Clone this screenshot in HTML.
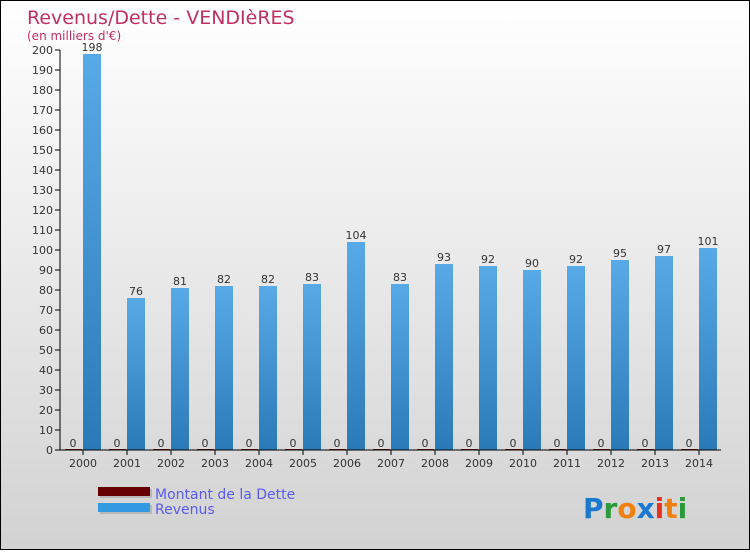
<!DOCTYPE html>
<html><head><meta charset="utf-8"><style>
body{margin:0}
#c{width:748px;height:548px;border:1px solid #000;background:linear-gradient(#ffffff,#d2d2d2);position:relative;font-family:"DejaVu Sans","Liberation Sans",sans-serif}
</style></head><body>
<div id="c">
<svg id="s" width="748" height="548" xmlns="http://www.w3.org/2000/svg">
<defs><linearGradient id="g" x1="0" x2="0" y1="0" y2="1"><stop offset="0" stop-color="#58aae6"/><stop offset="1" stop-color="#2a7ab8"/></linearGradient></defs>
<text x="26" y="23" font-size="19" fill="#c0305f">Revenus/Dette - VENDIèRES</text>
<text x="26" y="39" font-size="12" fill="#c0305f">(en milliers d'€)</text>
<g id="plot"></g>
<rect x="99" y="488" width="52" height="9" fill="#999" opacity="0.5"/>
<rect x="97" y="486" width="52" height="9" fill="#660000"/>
<text x="154" y="498" font-size="14" fill="#5b5bf0">Montant de la Dette</text>
<rect x="99" y="504" width="52" height="9" fill="#999" opacity="0.5"/>
<rect x="97" y="502" width="52" height="9" fill="#3399e0"/>
<text x="154" y="513" font-size="14" fill="#5b5bf0">Revenus</text>
<g font-size="28" font-weight="bold" font-family="'DejaVu Sans',sans-serif">
<text x="582" y="517"><tspan fill="#1a78d0">P</tspan><tspan fill="#2a9a3a">r</tspan><tspan fill="#f08010">o</tspan><tspan fill="#1a78d0">x</tspan><tspan fill="#e83020">i</tspan><tspan fill="#f08010">t</tspan><tspan fill="#2a9a3a">i</tspan></text></g>
</svg></div>
<script>
const years=["2000","2001","2002","2003","2004","2005","2006","2007","2008","2009","2010","2011","2012","2013","2014"];
const revenus=[198,76,81,82,82,83,104,83,93,92,90,92,95,97,101];
const dette=[0,0,0,0,0,0,0,0,0,0,0,0,0,0,0];
const yTicks=[0,10,20,30,40,50,60,70,80,90,100,110,120,130,140,150,160,170,180,190,200];
const NS="http://www.w3.org/2000/svg";
const g=document.getElementById('plot');
const y=v=>449-v*2;
const xc=i=>82+i*44;
function mk(t,a,txt){const e=document.createElementNS(NS,t);for(const k in a)e.setAttribute(k,a[k]);if(txt!==undefined)e.textContent=txt;g.appendChild(e);return e;}
yTicks.forEach(v=>{
 const l=mk('line',{x1:54,x2:59,y1:y(v),y2:y(v),stroke:'#000'});
 
 
 const t=mk('text',{x:52,y:y(v)+4,'font-size':11,fill:'#333','text-anchor':'end'},v);
 
 
});
years.forEach((yr,i)=>{
 const c=xc(i);
 const d=mk('rect',{x:c-18,y:y(dette[i])-1,width:17,height:dette[i]*2+1,fill:'#7a1010'});
 
 
 const dl=mk('text',{x:c-10,y:y(dette[i])-3,'font-size':11,fill:'#333','text-anchor':'middle'},dette[i]);
 
 
 const r=mk('rect',{x:c,y:y(revenus[i]),width:18,height:revenus[i]*2,fill:'url(#g)'});
 
 
 const rl=mk('text',{x:c+9,y:y(revenus[i])-3,'font-size':11,fill:'#333','text-anchor':'middle'},revenus[i]);
 
 
 const tk=mk('line',{x1:c,x2:c,y1:449,y2:454,stroke:'#000'});
 
 
 const xl=mk('text',{x:c,y:466,'font-size':11,fill:'#333','text-anchor':'middle'},yr);
 
 
});
const ya=mk('line',{x1:59,x2:59,y1:49,y2:449,stroke:'#000'});


const xa=mk('line',{x1:59,x2:720,y1:449,y2:449,stroke:'#000'});


</script>
</body></html>
